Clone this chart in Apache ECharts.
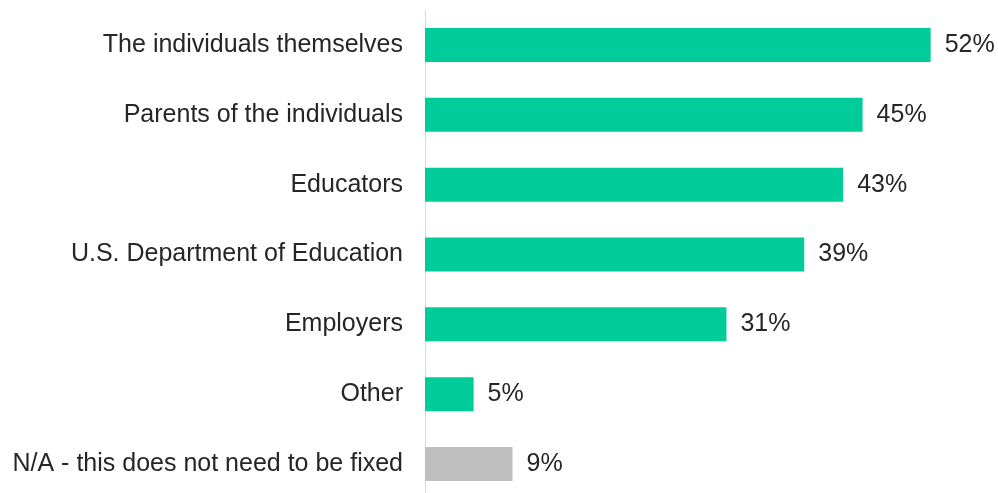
<!DOCTYPE html>
<html>
<head>
<meta charset="utf-8">
<script src="https://cdn.jsdelivr.net/npm/echarts@6/dist/echarts.min.js"></script>
<style>
  html, body { margin: 0; padding: 0; background: #fff; }
  #chart { width: 998px; height: 493px; }
</style>
</head>
<body>
<div id="chart"></div>
<script>
// categories top to bottom
const categories = [
  "The individuals themselves",
  "Parents of the individuals",
  "Educators",
  "U.S. Department of Education",
  "Employers",
  "Other",
  "N/A - this does not need to be fixed"
];
const values = [52, 45, 43, 39, 31, 5, 9];
const barColors = ["#00CC99", "#00CC99", "#00CC99", "#00CC99", "#00CC99", "#00CC99", "#BFBFBF"];

const chart = echarts.init(document.getElementById("chart"));

const font = "'Liberation Sans', Arial, sans-serif";

chart.setOption({
  animation: false,
  grid: { left: 425, top: 10, width: 564, height: 489, containLabel: false, outerBoundsMode: "none" },
  xAxis: {
    type: "value",
    min: 0,
    max: 58,
    show: false
  },
  yAxis: {
    type: "category",
    data: categories,
    inverse: true,
    axisLine: { show: true, lineStyle: { color: "#d9d9d9", width: 1 } },
    axisTick: { show: false },
    axisLabel: {
      color: "#262626",
      fontSize: 25,
      fontFamily: font,
      margin: 22
    }
  },
  series: [
    {
      type: "bar",
      data: values.map((v, i) => ({ value: v, itemStyle: { color: barColors[i] } })),
      barWidth: 34,
      label: {
        show: true,
        position: "right",
        distance: 14,
        formatter: "{c}%",
        color: "#262626",
        fontSize: 25,
        fontFamily: font
      }
    }
  ]
});
</script>
</body>
</html>
